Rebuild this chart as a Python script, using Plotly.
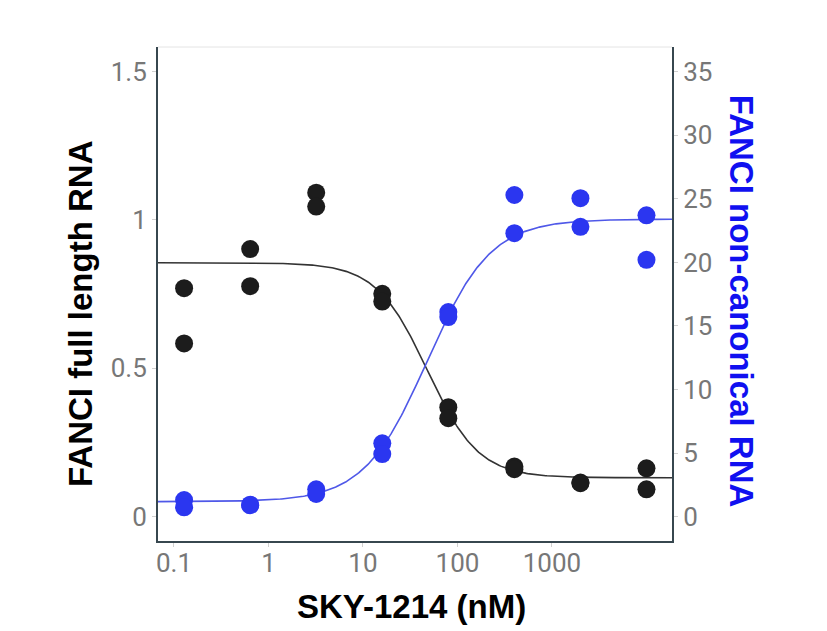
import numpy as np
import plotly.graph_objects as go

# Concentrations (nM), 5-fold dilution series
conc = [0.128, 0.64, 3.2, 16, 80, 400, 2000, 10000]

# FANCI full length RNA (left axis), two replicates per concentration
full_rep1 = [0.770, 0.902, 1.092, 0.751, 0.369, 0.169, 0.115, 0.163]
full_rep2 = [0.584, 0.777, 1.045, 0.725, 0.332, 0.160, 0.113, 0.092]

# FANCI non-canonical RNA (right axis), two replicates per concentration
nc_rep1 = [1.31, 0.95, 2.16, 5.77, 16.1, 25.3, 25.05, 23.7]
nc_rep2 = [0.74, 0.90, 1.79, 4.93, 15.7, 22.3, 22.8, 20.2]

# Four-parameter logistic fit parameters
full_fit = dict(bottom=0.131, top=0.856, ic50=48.0, hill=1.6)
nc_fit = dict(bottom=1.18, top=23.4, ec50=48.0, hill=1.3)

x_ticks = [0.1, 1, 10, 100, 1000]
x_tick_text = ["0.1", "1", "10", "100", "1000"]
yl_ticks = [0, 0.5, 1, 1.5]
yl_tick_text = ["0", "0.5", "1", "1.5"]
yr_ticks = [0, 5, 10, 15, 20, 25, 30, 35]

XR = [-1.169, 4.27]
xs = np.logspace(XR[0], XR[1], 400)
full_curve = full_fit["bottom"] + (full_fit["top"] - full_fit["bottom"]) / (1 + (xs / full_fit["ic50"]) ** full_fit["hill"])
nc_curve = nc_fit["bottom"] + (nc_fit["top"] - nc_fit["bottom"]) * (xs / nc_fit["ec50"]) ** nc_fit["hill"] / (1 + (xs / nc_fit["ec50"]) ** nc_fit["hill"])

BLACK_PT = "#1c1c1c"
BLACK_LN = "#333333"
BLUE_PT = "#2b36f0"
BLUE_LN = "#4f58e8"

fig = go.Figure()
fig.add_trace(go.Scatter(x=xs, y=full_curve, mode="lines", line=dict(color=BLACK_LN, width=1.6),
                         yaxis="y", showlegend=False, hoverinfo="skip"))
fig.add_trace(go.Scatter(x=xs, y=nc_curve, mode="lines", line=dict(color=BLUE_LN, width=1.6),
                         yaxis="y2", showlegend=False, hoverinfo="skip"))
fig.add_trace(go.Scatter(x=conc + conc, y=full_rep1 + full_rep2, mode="markers",
                         marker=dict(color=BLACK_PT, size=18), yaxis="y", showlegend=False))
fig.add_trace(go.Scatter(x=conc + conc, y=nc_rep1 + nc_rep2, mode="markers",
                         marker=dict(color=BLUE_PT, size=18), yaxis="y2", showlegend=False))

tickfont = dict(family="Roboto", size=26, color="#777777")
axline = "#37474f"

fig.update_layout(
    width=827, height=631,
    margin=dict(l=158, r=155, t=47, b=90),
    paper_bgcolor="white", plot_bgcolor="white",
    xaxis=dict(type="log", range=XR, tickvals=x_ticks, ticktext=x_tick_text,
               showgrid=False, zeroline=False, showline=True, linecolor=axline, linewidth=2,
               ticks="outside", ticklen=4, tickcolor="#d0d0d0", tickfont=tickfont,
               ticklabelstandoff=-6),
    yaxis=dict(range=[-0.082, 1.583], tickvals=yl_ticks, ticktext=yl_tick_text,
               showgrid=False, zeroline=False, showline=True, linecolor=axline, linewidth=2,
               ticks="outside", ticklen=4, tickcolor="#d0d0d0", tickfont=tickfont),
    yaxis2=dict(range=[-1.91, 36.94], tickvals=yr_ticks, overlaying="y", side="right",
                showgrid=False, zeroline=False, showline=True, linecolor=axline, linewidth=2,
                ticks="outside", ticklen=4, tickcolor="#d0d0d0", tickfont=tickfont),
    shapes=[dict(type="line", xref="paper", yref="paper", x0=0, x1=1, y0=1, y1=1,
                 line=dict(color="#e4e4e4", width=1))],
    annotations=[
        dict(text="<b>FANCI full length RNA</b>", xref="paper", yref="paper", x=-0.1518, y=0.4595,
             xanchor="center", yanchor="middle", textangle=-90, showarrow=False,
             font=dict(family="Liberation Sans, Arial", size=33, color="black")),
        dict(text="<b>FANCI non-canonical RNA</b>", xref="paper", yref="paper", x=1.1356, y=0.4848,
             xanchor="center", yanchor="middle", textangle=90, showarrow=False,
             font=dict(family="Liberation Sans, Arial", size=33, color="#1010f0")),
        dict(text="<b>SKY-1214 (nM)</b>", xref="paper", yref="paper", x=0.4932, y=-0.1316,
             xanchor="center", yanchor="middle", showarrow=False,
             font=dict(family="Liberation Sans, Arial", size=33, color="black")),
    ],
)

fig.write_html("out.html")
